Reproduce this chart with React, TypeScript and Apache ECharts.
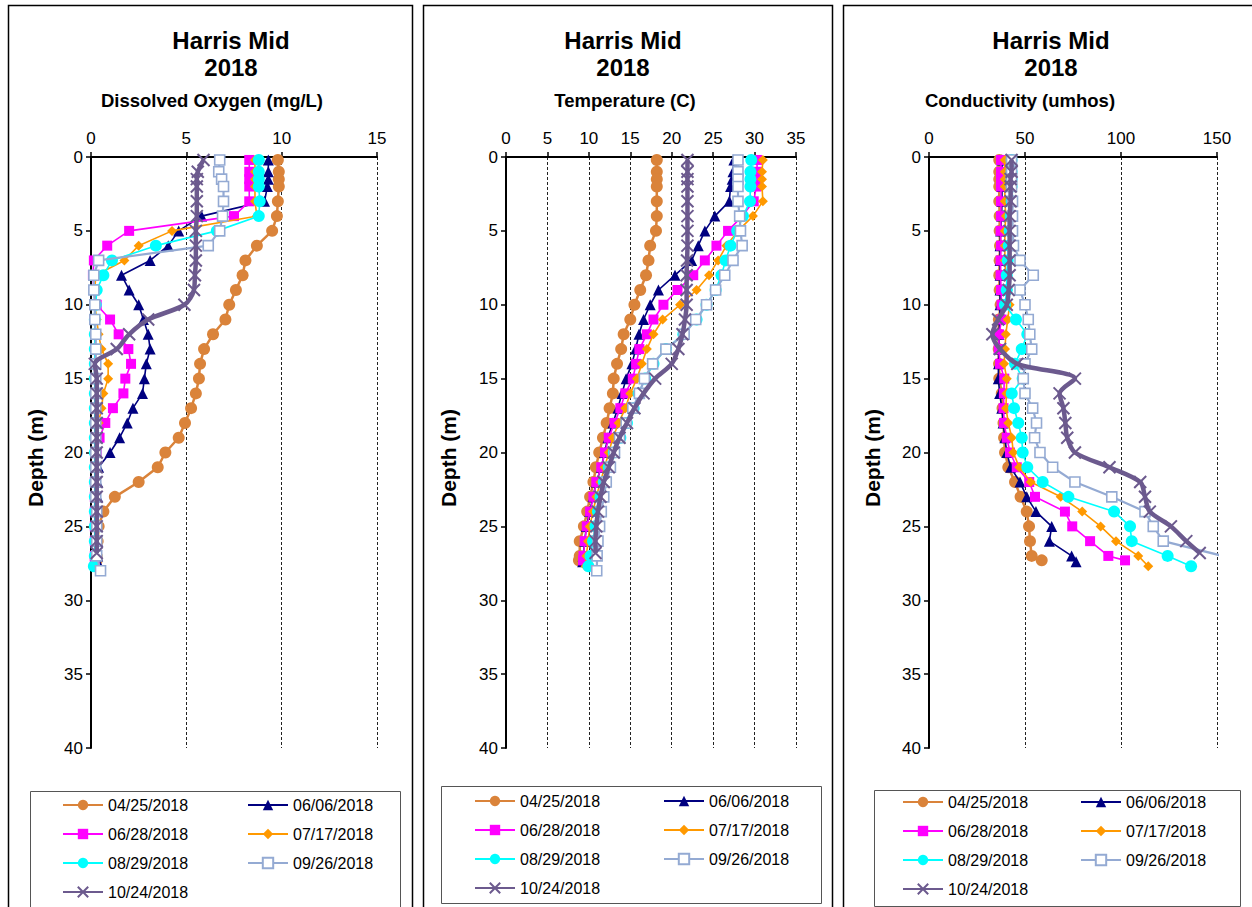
import React, { useEffect, useRef } from 'react';
import * as echarts from 'echarts';

const FONT = '"Liberation Sans", Arial, sans-serif';

const DATES = ['04/25/2018', '06/06/2018', '06/28/2018', '07/17/2018', '08/29/2018', '09/26/2018', '10/24/2018'];

// depths (m) of each profile
const DEPTH_0425 = [0.2, 1, 1.5, 2, 3, 4, 5, 6, 7, 8, 9, 10, 11, 12, 13, 14, 15, 16, 17, 18, 19, 20, 21, 22, 23, 24, 25, 26, 27, 27.3];
const DEPTH_0606 = [0.2, 1, 1.5, 2, 3, 4, 5, 6, 7, 8, 9, 10, 11, 12, 13, 14, 15, 16, 17, 18, 19, 20, 21, 22, 23, 24, 25, 26, 27, 27.4];
const DEPTH_0628 = [0.2, 1, 1.5, 2, 3, 4, 5, 6, 7, 8, 9, 10, 11, 12, 13, 14, 15, 16, 17, 18, 19, 20, 21, 22, 23, 24, 25, 26, 27, 27.3];
const DEPTH_0717 = [0.2, 1, 1.5, 2, 3, 4, 5, 6, 7, 8, 9, 10, 11, 12, 13, 14, 15, 16, 17, 18, 19, 20, 21, 22, 23, 24, 25, 26, 27, 27.7];
const DEPTH_0829 = [0.2, 1, 1.5, 2, 3, 4, 5, 6, 7, 8, 9, 10, 11, 12, 13, 14, 15, 16, 17, 18, 19, 20, 21, 22, 23, 24, 25, 26, 27, 27.7];
const DEPTH_0926 = [0.2, 1, 1.5, 2, 3, 4, 5, 6, 7, 8, 9, 10, 11, 12, 13, 14, 15, 16, 17, 18, 19, 20, 21, 22, 23, 24, 25, 26, 27, 28];
const DEPTH_1024 = [0.2, 1, 1.5, 2, 3, 4, 5, 6, 7, 8, 9, 10, 11, 12, 13, 14, 15, 16, 17, 18, 19, 20, 21, 22, 23, 24, 25, 26, 26.8];

// Dissolved oxygen (mg/L)
const DO_0425 = [9.8, 9.85, 9.85, 9.85, 9.8, 9.75, 9.5, 8.7, 8.1, 7.95, 7.6, 7.25, 7.05, 6.4, 5.93, 5.72, 5.66, 5.5, 5.25, 4.93, 4.6, 3.9, 3.5, 2.5, 1.25, 0.65, 0.4, 0.35, 0.3, 0.3];
const DO_0606 = [9.3, 9.3, 9.3, 9.25, 9.1, 5.8, 4.6, 4.05, 3.1, 1.6, 2.0, 2.5, 2.75, 3.0, 3.1, 2.9, 2.8, 2.7, 2.2, 1.9, 1.5, 1.0, 0.4, 0.35, 0.35, 0.35, 0.35, 0.35, 0.35, 0.35];
const DO_0628 = [8.3, 8.3, 8.3, 8.3, 8.3, 7.5, 2.0, 0.85, 0.15, 0.1, 0.15, 0.3, 1.0, 1.45, 1.96, 2.1, 1.8, 1.7, 1.15, 0.75, 0.45, 0.3, 0.25, 0.2, 0.2, 0.2, 0.2, 0.2, 0.2, 0.2];
const DO_0717 = [8.6, 8.6, 8.6, 8.6, 8.6, 8.7, 4.25, 2.5, 1.75, 0.25, 0.2, 0.2, 0.3, 0.4, 0.55, 0.9, 0.9, 0.65, 0.55, 0.4, 0.3, 0.25, 0.25, 0.25, 0.25, 0.25, 0.25, 0.25, 0.25, 0.25];
const DO_0829 = [8.8, 8.8, 8.8, 8.8, 8.85, 8.8, 6.6, 3.4, 1.1, 0.65, 0.3, 0.25, 0.2, 0.2, 0.2, 0.2, 0.2, 0.2, 0.2, 0.2, 0.2, 0.2, 0.2, 0.2, 0.2, 0.2, 0.2, 0.2, 0.2, 0.15];
const DO_0926 = [6.75, 6.7, 6.85, 6.95, 6.95, 6.9, 6.75, 6.15, 0.4, 0.15, 0.15, 0.2, 0.2, 0.25, 0.25, 0.25, 0.25, 0.25, 0.25, 0.25, 0.25, 0.25, 0.25, 0.25, 0.25, 0.3, 0.3, 0.3, 0.3, 0.5];
const DO_1024 = [5.9, 5.6, 5.55, 5.55, 5.55, 5.55, 5.5, 5.5, 5.5, 5.45, 5.4, 4.9, 3.0, 2.0, 1.35, 0.2, 0.3, 0.3, 0.3, 0.3, 0.3, 0.3, 0.3, 0.3, 0.3, 0.3, 0.3, 0.3, 0.3];

// Temperature (C)
const T_0425 = [18.2, 18.2, 18.2, 18.2, 18.2, 18.2, 18.1, 17.4, 17.2, 16.9, 16.2, 15.5, 15.0, 14.2, 13.9, 13.4, 13.0, 12.9, 12.5, 12.15, 11.7, 11.25, 10.85, 10.55, 10.15, 9.8, 9.4, 8.9, 8.9, 8.8];
const T_0606 = [27.5, 27.4, 27.3, 27.1, 26.95, 25.2, 24.0, 23.2, 22.4, 20.4, 18.4, 17.4, 16.6, 16.05, 15.65, 15.2, 14.5, 14.0, 13.5, 12.9, 12.3, 11.9, 11.5, 10.9, 10.5, 10.1, 9.7, 9.5, 9.3, 9.25];
const T_0628 = [30.3, 30.3, 30.3, 30.2, 29.9, 28.5, 26.8, 25.4, 24.0, 22.6, 20.7, 19.0, 17.8, 17.0, 16.1, 15.7, 15.3, 14.4, 13.8, 13.1, 12.4, 11.95, 11.5, 10.9, 10.55, 10.15, 9.75, 9.5, 9.35, 9.3];
const T_0717 = [31.0, 30.9, 30.9, 30.9, 31.0, 29.8, 28.0, 26.6, 25.6, 24.5, 23.0, 21.0, 18.9, 17.8, 17.0, 16.4, 15.8, 15.0, 14.4, 13.6, 12.9, 12.4, 11.9, 11.4, 10.9, 10.5, 10.1, 9.9, 9.7, 9.6];
const T_0829 = [29.6, 29.5, 29.5, 29.5, 29.45, 28.6, 27.9, 27.1, 26.5, 26.0, 25.3, 24.2, 23.0, 21.4, 19.3, 17.8, 16.8, 16.0, 15.4, 14.6, 13.8, 13.0, 12.4, 11.8, 11.4, 11.1, 10.8, 10.5, 10.2, 9.95];
const T_0926 = [28.0, 28.0, 28.0, 28.0, 28.0, 28.2, 28.3, 28.5, 27.4, 26.4, 25.3, 24.2, 22.9, 21.5, 19.3, 17.7, 16.7, 16.1, 15.3, 14.5, 13.7, 13.1, 12.6, 12.1, 11.8, 11.5, 11.3, 11.1, 11.0, 10.95];
const T_1024 = [21.9, 21.9, 21.9, 21.9, 21.9, 21.9, 21.9, 21.9, 21.85, 21.8, 21.8, 21.8, 21.6, 21.3, 20.8, 20.0, 18.0, 16.6, 15.5, 14.6, 13.7, 13.0, 12.4, 11.8, 11.4, 11.1, 10.9, 10.8, 10.8];

// Conductivity (umhos)
const C_0425 = [36.6, 36.6, 36.6, 36.6, 36.6, 36.8, 36.8, 37.0, 36.8, 36.6, 36.8, 37.3, 36.4, 36.3, 36.3, 36.5, 36.6, 37.9, 38.3, 38.8, 39.1, 39.6, 41.3, 44.8, 47.7, 50.9, 52.1, 52.6, 53.5, 58.7];
const C_0606 = [38, 38, 38, 38, 38, 37.8, 37.3, 37, 37, 37, 37, 37, 36.8, 36.5, 36.3, 36.2, 36.1, 36.8, 37.9, 38.6, 39.5, 40.5, 42.5, 47.4, 50.9, 55.7, 63.9, 62.7, 74.3, 76.6];
const C_0628 = [37.5, 37.5, 37.5, 37.5, 37.5, 37.5, 37.3, 37.5, 37.3, 37.3, 37.5, 37.8, 37.8, 36.5, 36.3, 37.0, 39.2, 39.0, 38.8, 39.1, 40.5, 42.2, 45.7, 52.2, 55.2, 70.8, 74.6, 83.9, 93.4, 102.1];
const C_0717 = [39.5, 39.5, 39.5, 39.5, 39.5, 40.0, 39.5, 39.5, 39.5, 40.0, 41.0, 42.0, 41.0, 40.0, 39.6, 39.1, 40.5, 40.3, 40.1, 41.3, 43.1, 43.9, 47.0, 53.0, 68.6, 79.8, 89.4, 97.4, 109.0, 114.2];
const C_0829 = [43, 43, 43, 43, 43, 42.5, 42, 41.5, 41, 40.5, 40.5, 39.6, 45.3, 51.2, 48.3, 44.8, 48.8, 43.1, 44.3, 46.5, 48.3, 48.8, 51.2, 59.2, 72.6, 96.4, 104.7, 105.6, 124.3, 136.5];
const C_0926 = [43, 43, 43, 43, 43.5, 43.5, 43.5, 44, 47.4, 54.3, 47.4, 50, 51.7, 52.5, 53.5, 50, 49.1, 50, 54, 56, 55, 57.8, 64.4, 76, 95.2, 112.5, 116.8, 122, 153, 160];
const C_1024 = [43, 43, 42.5, 42.5, 42.5, 42, 42, 42, 42, 42, 41.5, 40.5, 36, 33, 37, 46, 76, 68, 70, 71, 72, 76, 94, 110, 112.5, 115, 126, 134, 141];

const X_TICKS_DO = [0, 15, 5];
const X_TICKS_T = [0, 35, 5];
const X_TICKS_C = [0, 150, 50];
const Y_TICKS = [0, 40, 5];

const DEPTHS = [DEPTH_0425, DEPTH_0606, DEPTH_0628, DEPTH_0717, DEPTH_0829, DEPTH_0926, DEPTH_1024];
const PANEL_VALUES = [
  [DO_0425, DO_0606, DO_0628, DO_0717, DO_0829, DO_0926, DO_1024],
  [T_0425, T_0606, T_0628, T_0717, T_0829, T_0926, T_1024],
  [C_0425, C_0606, C_0628, C_0717, C_0829, C_0926, C_1024],
];
const PANEL_TICKS = [X_TICKS_DO, X_TICKS_T, X_TICKS_C];
const PANEL_SUBTITLES = ['Dissolved Oxygen (mg/L)', 'Temperature (C)', 'Conductivity (umhos)'];

const XSYM = 'path://M0,0L10,10M10,0L0,10';
const STYLES = [
  { color: '#DA833A', symbol: 'circle', size: 12, lw: 2.5, fill: '#DA833A' },
  { color: '#000080', symbol: 'triangle', size: 11, lw: 1.6, fill: '#000080' },
  { color: '#FF00FF', symbol: 'rect', size: 10, lw: 1.6, fill: '#FF00FF' },
  { color: '#FF9900', symbol: 'diamond', size: 10, lw: 1.6, fill: '#FF9900' },
  { color: '#00FFFF', symbol: 'circle', size: 12, lw: 1.6, fill: '#00FFFF' },
  { color: '#94AAD3', symbol: 'rect', size: 10, lw: 2.2, fill: '#FFFFFF' },
  { color: '#6C5A8E', symbol: XSYM, size: 12, lw: 4.5, fill: '#6C5A8E' },
];

const GRIDS = [
  { left: 91, top: 157, width: 286, height: 591 },
  { left: 506, top: 157, width: 290, height: 591 },
  { left: 929, top: 157, width: 288, height: 591 },
];
const PANELS = [
  { x: 8, w: 404, title: 231, sub: 212, yname: 35 },
  { x: 423, w: 409, title: 623, sub: 625, yname: 448 },
  { x: 843, w: 420, title: 1051, sub: 1020, yname: 872 },
];
const LEGENDS = [
  { box: [30, 791, 370, 116], c1: 62, c2: 247, top: 797 },
  { box: [441, 786, 380, 117], c1: 474, c2: 663, top: 793 },
  { box: [874, 790, 366, 116], c1: 902, c2: 1080, top: 794 },
];

function App() {
  const ref = useRef<HTMLDivElement>(null);
  useEffect(() => {
    if (!ref.current) return;
    const chart = echarts.init(ref.current, undefined, { renderer: 'svg' });
    const series: any[] = [];
    PANEL_VALUES.forEach((vals, p) => {
      vals.forEach((arr, i) => {
        const s = STYLES[i];
        series.push({
          name: DATES[i],
          type: 'line',
          xAxisIndex: p,
          yAxisIndex: p,
          data: DEPTHS[i].map((d, k) => [arr[k], d]),
          symbol: s.symbol,
          symbolSize: s.size,
          smooth: i === 6 ? 0.3 : false,
          lineStyle: { color: s.color, width: s.lw },
          itemStyle: {
            color: s.fill,
            borderColor: s.color,
            borderWidth: i === 5 ? 1.6 : i === 6 ? 2 : 0,
          },
          emphasis: { disabled: true },
          z: 2 + i,
        });
      });
    });
    const xAxis = PANEL_TICKS.map((t, p) => ({
      gridIndex: p,
      type: 'value',
      position: 'top',
      min: t[0],
      max: t[1],
      interval: t[2],
      axisLine: { show: true, onZero: false, lineStyle: { color: '#000', width: 2 } },
      axisTick: { show: true, length: 5, lineStyle: { color: '#000', width: 1.5 } },
      axisLabel: { color: '#000', fontSize: 17, fontFamily: FONT, margin: 10 },
      splitLine: { show: true, lineStyle: { color: '#222', type: [3, 2], width: 1 } },
    }));
    const yAxis = GRIDS.map((g, p) => ({
      gridIndex: p,
      type: 'value',
      inverse: true,
      min: Y_TICKS[0],
      max: Y_TICKS[1],
      interval: Y_TICKS[2],
      axisLine: { show: true, onZero: false, lineStyle: { color: '#000', width: 2 } },
      axisTick: { show: true, length: 5, lineStyle: { color: '#000', width: 1.5 } },
      axisLabel: { color: '#000', fontSize: 17, fontFamily: FONT, margin: 8 },
      splitLine: { show: false },
    }));
    const legend: any[] = [];
    LEGENDS.forEach((L) => {
      [[0, 2, 4, 6], [1, 3, 5]].forEach((idx, c) => {
        legend.push({
          orient: 'vertical',
          left: c === 0 ? L.c1 : L.c2,
          top: L.top,
          padding: 0,
          itemWidth: 40,
          itemHeight: 13,
          itemGap: 13,
          selectedMode: false,
          textStyle: { color: '#000', fontSize: 16, fontFamily: FONT, padding: [2, 0, 0, 0] },
          data: idx.map((k) => DATES[k]),
        });
      });
    });
    const graphic: any[] = [];
    PANELS.forEach((P, p) => {
      graphic.push({
        type: 'rect', silent: true, z: -10,
        shape: { x: P.x + 0.5, y: 5.5, width: P.w, height: 940 },
        style: { fill: '#fff', stroke: '#000', lineWidth: 1.5 },
      });
      const L = LEGENDS[p];
      graphic.push({
        type: 'rect', silent: true, z: -5,
        shape: { x: L.box[0] + 0.5, y: L.box[1] + 0.5, width: L.box[2], height: L.box[3] },
        style: { fill: 'transparent', stroke: '#555', lineWidth: 1 },
      });
      graphic.push({
        type: 'text', silent: true, x: P.title, y: 40,
        style: { text: 'Harris Mid', fontSize: 24, fontWeight: 'bold', fontFamily: FONT, fill: '#000', align: 'center', verticalAlign: 'middle' },
      });
      graphic.push({
        type: 'text', silent: true, x: P.title, y: 67,
        style: { text: '2018', fontSize: 24, fontWeight: 'bold', fontFamily: FONT, fill: '#000', align: 'center', verticalAlign: 'middle' },
      });
      graphic.push({
        type: 'text', silent: true, x: P.sub, y: 100,
        style: { text: PANEL_SUBTITLES[p], fontSize: 18.5, fontWeight: 'bold', fontFamily: FONT, fill: '#000', align: 'center', verticalAlign: 'middle' },
      });
      graphic.push({
        type: 'text', silent: true, x: P.yname, y: 458, rotation: Math.PI / 2,
        style: { text: 'Depth (m)', fontSize: 21, fontWeight: 'bold', fontFamily: FONT, fill: '#000', align: 'center', verticalAlign: 'middle' },
      });
    });
    chart.setOption({
      animation: false,
      backgroundColor: '#fff',
      grid: GRIDS.map((g) => ({ ...g, containLabel: false })),
      xAxis,
      yAxis,
      legend,
      graphic,
      series,
    });
    return () => chart.dispose();
  }, []);
  return <div ref={ref} style={{ position: 'fixed', left: 0, top: 0, width: 1252, height: 907 }} />;
}

export default App;
